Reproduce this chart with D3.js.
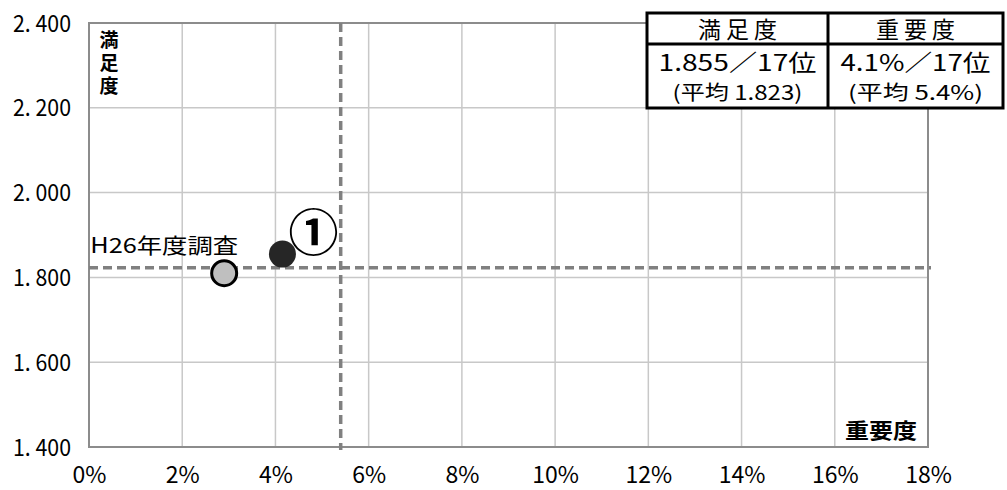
<!DOCTYPE html>
<html>
<head>
<meta charset="utf-8">
<script src="https://cdn.jsdelivr.net/npm/d3@7"></script>
<style>
body { margin: 0; background: #fff; }
text { font-family: "Noto Sans CJK JP", sans-serif; fill: #000; }
</style>
</head>
<body>
<div id="chart"></div>
<script>
// data
var xTicks = [0, 2, 4, 6, 8, 10, 12, 14, 16, 18];
var yTicks = [1.4, 1.6, 1.8, 2.0, 2.2, 2.4];
var avgImportance = 5.4;
var avgSatisfaction = 1.823;
var pointNames = ["H26年度調査", "①"];
var pointImportance = [2.9, 4.15];
var pointSatisfaction = [1.810, 1.855];
var tableHeaders = ["満足度", "重要度"];
var tableValues = ["1.855／17位", "4.1%／17位"];
var tableAverages = ["(平均 1.823)", "(平均 5.4%)"];

var W = 1007, H = 490;
var margin = {top: 23, right: 79, bottom: 43, left: 89};
var width = W - margin.left - margin.right;
var height = H - margin.top - margin.bottom;

var svg = d3.select("#chart").append("svg")
	.attr("width", W).attr("height", H);
var g = svg.append("g")
	.attr("transform", "translate(" + margin.left + "," + margin.top + ")");

var x = d3.scaleLinear().domain([0, 18]).range([0, width]);
var y = d3.scaleLinear().domain([1.4, 2.4]).range([height, 0]);

//grid
g.selectAll(".vgrid").data(xTicks.slice(1)).enter().append("line")
	.attr("x1", function(d) {return x(d)}).attr("x2", function(d) {return x(d)})
	.attr("y1", 0).attr("y2", height)
	.attr("stroke", "#c8c8c8").attr("stroke-width", 1.5);
g.selectAll(".hgrid").data(yTicks.slice(1)).enter().append("line")
	.attr("y1", function(d) {return y(d)}).attr("y2", function(d) {return y(d)})
	.attr("x1", 0).attr("x2", width)
	.attr("stroke", "#c8c8c8").attr("stroke-width", 1.5);

//frame
g.append("rect").attr("width", width).attr("height", height)
	.attr("fill", "none").attr("stroke", "#8c8c8c").attr("stroke-width", 2);

//tick labels
var xAxis = d3.axisBottom(x).tickValues(xTicks).tickFormat(function(d) {return d + "%"}).tickSize(0).tickPadding(20);
g.append("g").attr("transform", "translate(0," + height + ")").call(xAxis)
	.call(function(s) {s.select(".domain").remove()})
	.selectAll("text").style("font-size", "23px").style("font-family", "'Noto Sans CJK JP'").attr("fill", "#000");

var yAxis = d3.axisLeft(y).tickValues(yTicks).tickFormat(function(d) {return d3.format(".3f")(d).replace(".", ". ")}).tickSize(0).tickPadding(18);
g.append("g").call(yAxis)
	.call(function(s) {s.select(".domain").remove()})
	.selectAll("text").style("font-size", "23px").style("font-family", "'Noto Sans CJK JP'").attr("fill", "#000")
	.attr("dy", "0.35em").attr("textLength", 58).attr("lengthAdjust", "spacingAndGlyphs");

//average lines
g.append("line")
	.attr("x1", x(avgImportance)).attr("x2", x(avgImportance))
	.attr("y1", 0).attr("y2", height + 3)
	.attr("stroke", "#808080").attr("stroke-width", 3.5).attr("stroke-dasharray", "9,5");
g.append("line")
	.attr("x1", 0).attr("x2", width + 3)
	.attr("y1", y(avgSatisfaction)).attr("y2", y(avgSatisfaction))
	.attr("stroke", "#808080").attr("stroke-width", 3.5).attr("stroke-dasharray", "9,5");

//axis titles, the y one runs vertically
g.append("text").attr("x", 20).attr("y", 7)
	.style("writing-mode", "vertical-rl").style("letter-spacing", "4px")
	.style("font-size", "19px").style("font-weight", "bold").text("満足度");
g.append("text").attr("x", width - 11).attr("y", height - 9)
	.attr("text-anchor", "end").style("font-size", "21px").style("font-weight", "bold")
	.attr("textLength", 72).attr("lengthAdjust", "spacingAndGlyphs")
	.text("重要度");

//points
g.append("circle").attr("cx", x(pointImportance[0])).attr("cy", y(pointSatisfaction[0]))
	.attr("r", 12.5).attr("fill", "#bfbfbf").attr("stroke", "#000").attr("stroke-width", 3);
g.append("circle").attr("cx", x(pointImportance[1])).attr("cy", y(pointSatisfaction[1]))
	.attr("r", 13.5).attr("fill", "#262626");

g.append("text").attr("x", x(pointImportance[0]) - 134).attr("y", y(pointSatisfaction[0]) - 20)
	.style("font-size", "21px").attr("textLength", 148).attr("lengthAdjust", "spacingAndGlyphs")
	.text(pointNames[0]);
g.append("text").attr("x", x(pointImportance[1]) + 31).attr("y", y(pointSatisfaction[1]) - 3)
	.attr("text-anchor", "middle").style("font-size", "50px").style("font-weight", "bold").text(pointNames[1]);

//table
var tx = 647, ty = 13, colW = [181, 175], rowH = [31, 64];
var tb = svg.append("g");
tb.append("rect").attr("x", tx).attr("y", ty).attr("width", colW[0] + colW[1]).attr("height", rowH[0] + rowH[1])
	.attr("fill", "#fff").attr("stroke", "#000").attr("stroke-width", 3);
tb.append("line").attr("x1", tx).attr("x2", tx + colW[0] + colW[1]).attr("y1", ty + rowH[0]).attr("y2", ty + rowH[0])
	.attr("stroke", "#000").attr("stroke-width", 3);
tb.append("line").attr("x1", tx + colW[0]).attr("x2", tx + colW[0]).attr("y1", ty).attr("y2", ty + rowH[0] + rowH[1])
	.attr("stroke", "#000").attr("stroke-width", 3);
var valueW = [158, 150], avgW = [130, 135];
[0, 1].forEach(function(i) {
	var cx = tx + (i == 0 ? colW[0] / 2 : colW[0] + colW[1] / 2);
	tb.append("text").attr("x", cx).attr("y", ty + 25).attr("text-anchor", "middle")
		.style("font-size", "23px").attr("textLength", 79).attr("lengthAdjust", "spacing").text(tableHeaders[i]);
	tb.append("text").attr("x", cx).attr("y", ty + 58).attr("text-anchor", "middle")
		.style("font-size", "23px").attr("textLength", valueW[i]).attr("lengthAdjust", "spacingAndGlyphs").text(tableValues[i]);
	tb.append("text").attr("x", cx).attr("y", ty + 87).attr("text-anchor", "middle")
		.style("font-size", "20px").attr("textLength", avgW[i]).attr("lengthAdjust", "spacingAndGlyphs").text(tableAverages[i]);
});
</script>
</body>
</html>
